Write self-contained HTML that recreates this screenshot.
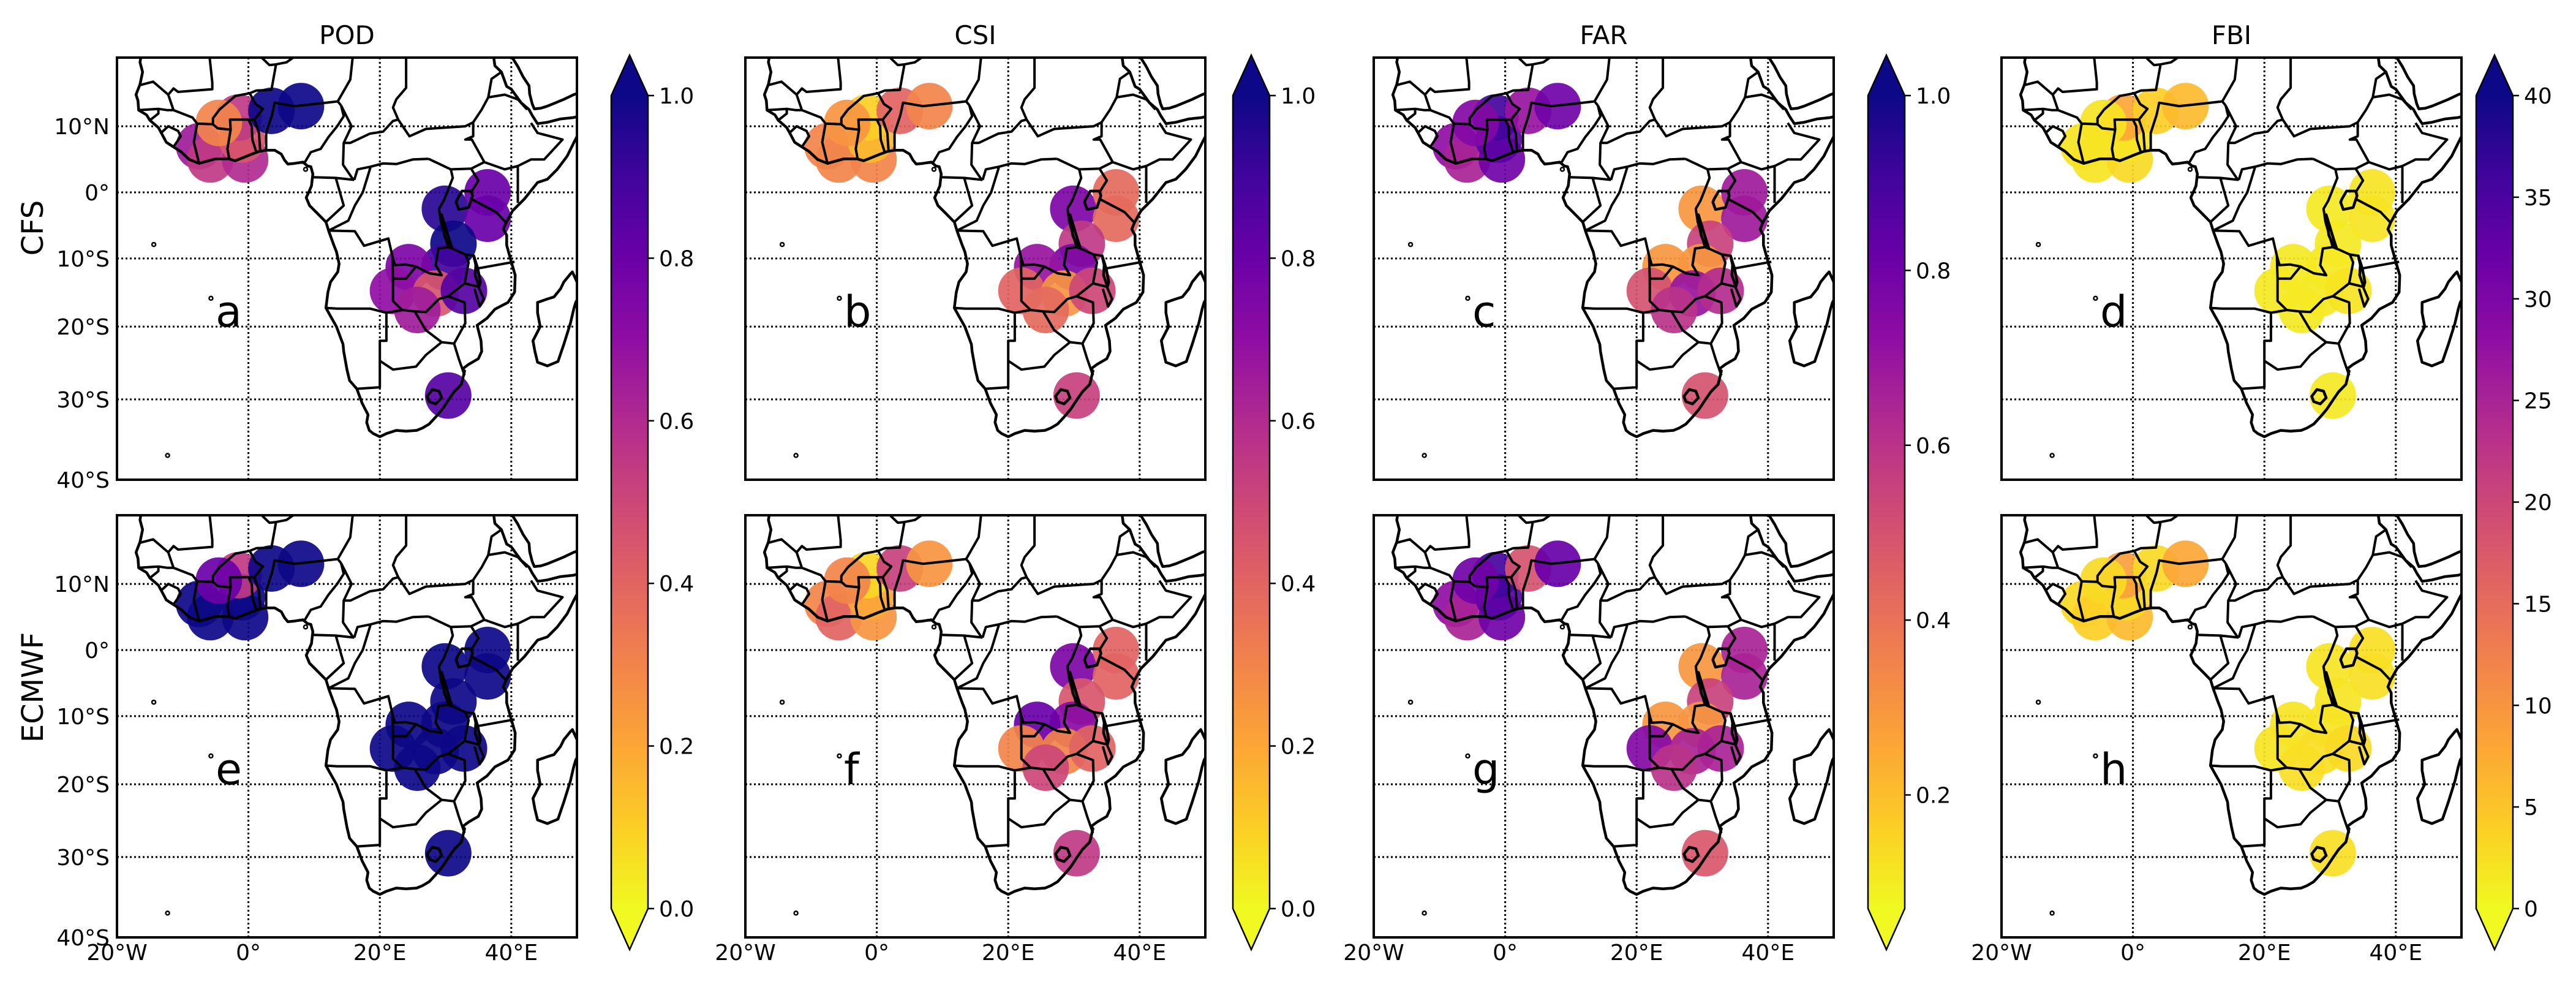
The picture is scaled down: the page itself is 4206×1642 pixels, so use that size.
<!DOCTYPE html>
<html><head><meta charset="utf-8"><style>
html,body{margin:0;padding:0;background:#fff;}
svg{display:block;font-family:"DejaVu Sans","Liberation Sans",sans-serif;}
</style></head><body>
<svg id="fig" width="4206" height="1642" viewBox="0 0 4206 1642" xmlns="http://www.w3.org/2000/svg"></svg>
<script>
// ---- data ----
const stationLon = [-7.5,-5.8,-0.5,-1.0,-1.5,-4.5,3.5,8.0,29.9,36.4,36.4,31.2,29.8,24.4,22.0,28.5,32.8,25.7,30.4];
const stationLat = [7.0,5.0,5.0,8.0,11.3,10.5,12.3,13.0,-2.5,0.0,-4.0,-7.8,-11.3,-11.3,-14.8,-15.2,-14.8,-17.6,-29.5];
const podCfs   = [0.65,0.55,0.6,0.45,0.55,0.3,1.0,1.0,0.95,0.8,0.8,1.0,0.9,0.75,0.7,0.45,0.85,0.65,0.85];
const podEcmwf = [1.0,1.0,1.0,1.0,0.55,0.8,1.0,1.0,1.0,1.0,1.0,1.0,1.0,1.0,1.0,1.0,1.0,1.0,1.0];
const csiCfs   = [0.3,0.3,0.3,0.15,0.1,0.25,0.4,0.3,0.75,0.38,0.38,0.55,0.75,0.68,0.4,0.25,0.5,0.38,0.52];
const csiEcmwf = [0.3,0.4,0.25,0.2,0.08,0.3,0.52,0.25,0.75,0.4,0.4,0.45,0.72,0.8,0.3,0.3,0.4,0.5,0.55];
const farCfs   = [0.72,0.65,0.8,0.85,0.9,0.75,0.7,0.8,0.3,0.68,0.68,0.55,0.3,0.3,0.5,0.7,0.62,0.6,0.5];
const farEcmwf = [0.72,0.65,0.8,0.85,0.9,0.8,0.5,0.82,0.3,0.65,0.65,0.55,0.3,0.3,0.75,0.65,0.65,0.6,0.48];
const fbiCfs   = [2,2,3,2,8,2,4,6,1.5,2,2,1.5,1.5,1.5,1.5,1.5,2,1.5,1.5];
const fbiEcmwf = [3,4,6,3,9,3,3,8,2,2.5,2.5,2,2,2,2,2.5,3,2.5,2.5];
const metricNames = ["POD","CSI","FAR","FBI"];
const cbTicksPod = [0.0,0.2,0.4,0.6,0.8,1.0];
const cbTicksCsi = [0.0,0.2,0.4,0.6,0.8,1.0];
const cbTicksFar = [0.2,0.4,0.6,0.8,1.0];
const cbTicksFbi = [0,5,10,15,20,25,30,35,40];
const latTicks = [10,0,-10,-20,-30,-40];
const lonTicks = [-20,0,20,40];

// ---- map geometry (lon,lat) ----
const africa = [[-17,22],[-16.3,20.5],[-16.5,19.4],[-16.1,18],[-16.5,16.2],[-17.1,14.7],[-16.8,13.8],[-16.7,12.4],[-15.5,11.7],[-15,10.9],[-13.7,9.8],[-13.2,8.9],[-12.5,7.6],[-11.4,6.9],[-10.3,6.2],[-9,5],[-7.5,4.4],[-5,5.1],[-3,5.1],[-2,4.8],[-1,5.2],[0.5,5.8],[1.6,6.2],[2.7,6.4],[4,6.4],[5,5.8],[5.5,4.9],[6,4.3],[7,4.4],[8.3,4.6],[9,4],[9.5,3.9],[9.8,2.8],[9.6,1],[9.3,0.3],[8.8,-0.8],[9.3,-2],[10.5,-3.2],[11.8,-4.5],[12.2,-5.8],[12.3,-6.1],[13,-8],[13.4,-9],[13.8,-10.8],[13.6,-12],[12.5,-13.5],[12.1,-15],[11.8,-17.3],[12.5,-18.5],[13.4,-20],[14.4,-22.5],[14.5,-23.5],[15,-26],[15.4,-27.5],[16.5,-28.6],[17.3,-30.5],[18.2,-32],[18,-33],[18.4,-34],[19,-34.4],[20,-34.8],[21,-34.4],[22.5,-34],[24,-34.1],[25.6,-34],[26.5,-33.7],[27.5,-33.2],[28.5,-32.3],[29.5,-31.3],[30.5,-30],[31.3,-29],[32.4,-28],[32.9,-26.2],[32.6,-25.9],[33.5,-25.3],[35,-24.5],[35.5,-23.5],[35.4,-22],[34.8,-19.8],[36.3,-18.8],[37.5,-17.5],[39.5,-16.5],[40.5,-15],[40.6,-12.5],[40,-10.5],[39.3,-8],[39.3,-6.5],[38.8,-5.6],[39.2,-4.6],[40.2,-2.8],[41,-2],[42,-1],[44,1.5],[45.5,2],[47,3.5],[48.5,5.5],[49.5,7.5],[50.8,10],[51.2,11.8],[49.5,11.3],[47.5,11.1],[45.5,10.6],[44,10.4],[43.2,11.6],[42.7,12.5],[41.5,13.5],[40,15.5],[39.3,15.9],[38.5,18],[37.5,18.9],[37.2,21],[37,22]];
const arabia = [[38.8,22],[39.2,21],[40.2,20],[41,18.8],[41.8,17.3],[42.7,16],[42.8,14.8],[43.2,13.3],[43.5,12.6],[44.5,12.7],[45.5,13],[46.5,13.4],[48,14],[49.5,14.7],[51,15.2]];
const madagascar = [[49.3,-12],[50,-13.5],[50.4,-15.5],[49.8,-16.5],[49.5,-17.5],[49,-19.5],[48,-22.5],[47.1,-24.9],[45.5,-25.5],[44,-25],[43.6,-23.5],[43.3,-22],[44.4,-20],[44,-18],[44,-16.5],[45.5,-16],[46.5,-15.7],[47.5,-14.5],[48,-13.5],[49,-12.3],[49.3,-12]];
const lakes = [
 [[31.8,-1],[32.5,0.2],[33.9,0.2],[34.1,-0.5],[33.5,-2.3],[32,-2.6],[31.6,-1.5],[31.8,-1]],
 [[29.3,-3.4],[29.6,-5],[29.8,-6.5],[30.6,-8.3],[31,-8.5],[30.5,-7],[29.9,-5],[29.4,-3.4]],
 [[34.3,-9.6],[34.6,-11],[34.5,-12.5],[35.1,-14.2],[35.3,-13.5],[34.9,-11.5],[34.3,-9.6]],
 [[27.2,-29.6],[28,-28.7],[29,-28.9],[29.4,-29.8],[28.5,-30.6],[27.5,-30.3],[27.2,-29.6]]
];
const borders = [
 [[-16.5,16.1],[-14.5,16.6],[-12.2,14.7],[-11.4,15.6],[-10.7,15.1],[-5.5,15.5],[-5.5,16.5],[-6,21]],
 [[-16.7,12.4],[-13.7,12.6],[-12.3,12.4],[-11.4,12.4],[-12.2,14.7]],
 [[-15,10.9],[-13.7,11.9],[-13.7,12.6]],
 [[-13.3,9],[-12.2,10],[-10.7,9.3],[-10.3,8.5],[-11.4,6.9]],
 [[-11.4,12.4],[-8.5,11.3],[-7.8,10.4],[-8.3,7.6],[-7.5,4.4]],
 [[-7.8,10.4],[-5.4,10.3],[-4.7,9.7],[-2.7,9.5],[-3.2,6.6],[-2.9,5]],
 [[-2.7,9.5],[-2.8,11],[0,11],[0.9,11]],
 [[0,11],[0.5,10],[0.6,8],[1.2,6.1]],
 [[0.9,11],[1.6,9],[1.8,6.2]],
 [[3.6,11.7],[2.7,9],[2.7,6.4]],
 [[0.9,11],[2.2,12.6],[1.1,13.3],[0.2,14.9],[-2,14.5],[-4.4,12.5],[-5.4,11.2],[-5.4,10.3]],
 [[0.2,14.9],[1.2,15.3],[3.5,15.4],[4.2,19.1],[3.2,19],[1.2,20.8],[-1,22]],
 [[4.2,19.1],[5.8,19.4],[9,21.5]],
 [[3.6,11.7],[4,13.5],[7,13],[10,13.3],[13.6,13.7],[14.1,13.1]],
 [[13.6,13.7],[15.5,16.9],[15.9,20.4],[15.5,22]],
 [[14.1,13.1],[14.5,11.5],[13.5,10],[12.2,8.4],[11,6.6],[9.5,6.1],[8.6,4.6]],
 [[14.1,13.1],[15.7,10],[14.5,7.5],[14.4,4.2],[15.9,2],[16.1,1.9]],
 [[9.8,2.3],[13.3,2.2],[16.1,1.9]],
 [[13.3,2.2],[14.5,-2],[11.8,-4.5]],
 [[14.5,7.5],[15.5,7.5],[18.5,8.9],[20.5,9.2],[22,10.8],[22.8,11]],
 [[22.8,11],[22,12.8],[22.5,14],[24,15.7],[24,19.5],[24,22]],
 [[16.1,1.9],[16.6,3.5],[18.6,3.9],[20.5,4.4],[22.5,4.3],[25,5],[27.4,5.1]],
 [[18.6,3.9],[17.4,0],[16.2,-2],[15.2,-4.3],[12.2,-5.8]],
 [[22.8,11],[24.5,8.5],[27,9.6],[30,9.8],[33,10],[34.2,10.6]],
 [[27.4,5.1],[30.8,3.5],[33.9,3.6],[35.9,4.6],[34,8],[33,8],[34.2,8.5],[34.2,10.6],[35.5,12.5],[36.5,14.3]],
 [[36.5,14.3],[37,17],[38.5,18]],
 [[36.5,14.3],[39,14.7],[41,14],[42.4,12.5]],
 [[35.9,4.6],[39,3.5],[41,4],[43,5],[45,5],[47.8,8],[44,9],[43,10.5]],
 [[41,4],[41,-1.6]],
 [[33.9,-1],[37.7,-3],[39.2,-4.6]],
 [[33.9,3.6],[35,1.8],[34,0.2]],
 [[30.8,3.5],[31.1,2.2],[29.7,-1.3],[29,-2.5],[29.3,-4.5],[30.4,-8.3],[28.9,-8.5],[28.5,-11],[29.4,-12.5],[27.5,-12.2],[25.5,-11.2],[23.9,-10.9],[22.3,-11],[21.9,-9.6],[21.3,-7],[17.6,-8.1],[16.2,-5.9],[12.2,-5.8]],
 [[30.4,-8.3],[31.2,-8.6],[33,-9.4],[33.5,-10.6],[32.9,-13.7],[30.4,-15.6]],
 [[33,-9.4],[34.3,-9.6]],
 [[32.9,-13.7],[35,-14.2],[35.8,-16],[35.2,-17.1],[34.4,-14.5]],
 [[34.8,-11.5],[40.5,-10.5]],
 [[21.9,-9.6],[22,-13],[22,-16.3],[23.4,-17.6]],
 [[11.8,-17.3],[13.5,-17.4],[18.5,-17.4],[21,-18],[23.4,-17.6],[25.3,-17.8]],
 [[21,-18],[21,-22],[20,-22],[20,-24.8],[20,-28.4],[16.5,-28.6]],
 [[20,-24.8],[22,-26],[25.5,-25.6],[27,-24],[29.4,-22.2]],
 [[25.3,-17.8],[27,-17.9],[29,-16],[30.4,-15.6],[32.9,-16.5],[33,-19.5],[31.3,-22.4],[29.4,-22.2],[27,-20.5],[25.3,-17.8]],
 [[31.3,-22.4],[32,-24.5],[32.9,-26.8]],
 [[22,-13],[24,-13],[25.5,-11.2]]
];
const islands = [[-14.4,-7.9],[-5.7,-15.9],[-12.3,-37.1],[8.7,3.5]];

// ---- layout ----
const NS = "http://www.w3.org/2000/svg";
const svg = document.getElementById('fig');
const colX = [191,1217,2243,3268];
const cbX = [998,2013,3050,4043];
const rowTop = [94,841];
const PW = 751, PH = 689;
const EQ_OFF = 220;
const PX_PER_DEG = 10.73, MERC_SCALE = 615;

function mk(tag, attrs, parent){ const e=document.createElementNS(NS,tag); for(const k in attrs) e.setAttribute(k,attrs[k]); (parent||svg).appendChild(e); return e; }
function merc(lat){ const r=lat*Math.PI/180; return Math.log(Math.tan(Math.PI/4+r/2)); }
function xScale(c, lon){ return colX[c] + (lon+20)*PX_PER_DEG; }
function yScale(r, lat){ return rowTop[r] + EQ_OFF - MERC_SCALE*merc(lat); }

const plasma = ["#0d0887","#41049d","#6a00a8","#8f0da4","#b12a90","#cc4778","#e16462","#f2844b","#fca636","#fcce25","#f0f921"];
function hex(h){ return [1,3,5].map(i=>parseInt(h.substr(i,2),16)); }
function cmap(t){
  t=Math.max(0,Math.min(1,t)); const p=(1-t)*10; const i=Math.min(9,Math.floor(p)); const f=p-i;
  const a=hex(plasma[i]), b=hex(plasma[i+1]);
  return 'rgb('+a.map((v,k)=>Math.round(v+(b[k]-v)*f)).join(',')+')';
}

const defs = mk('defs',{});
const grad = mk('linearGradient',{id:'cbgrad',x1:'0',y1:'1',x2:'0',y2:'0'},defs);
for(let k=0;k<=20;k++){ mk('stop',{offset:(k/20).toFixed(3),'stop-color':cmap(k/20)},grad); }

const panelData = [[podCfs,podEcmwf],[csiCfs,csiEcmwf],[farCfs,farEcmwf],[fbiCfs,fbiEcmwf]];
const ranges = [[0,1],[0,1],[0.07,1],[0,40]];
const cbTicks = [cbTicksPod,cbTicksCsi,cbTicksFar,cbTicksFbi];
const letters = [['a','e'],['b','f'],['c','g'],['d','h']];

function pathOf(c,r,pts,close){ return pts.map((p,i)=>(i?'L':'M')+xScale(c,p[0]).toFixed(1)+','+yScale(r,p[1]).toFixed(1)).join('')+(close?'Z':''); }

for(let c=0;c<4;c++){
  for(let r=0;r<2;r++){
    const x0=colX[c], y0=rowTop[r];
    const cp = mk('clipPath',{id:'clip'+c+r},defs); mk('rect',{x:x0,y:y0,width:PW,height:PH},cp);
    const g = mk('g',{'clip-path':'url(#clip'+c+r+')'});
    
    
    [10,0,-10,-20,-30].forEach(lat=>{ const y=yScale(r,lat); const l=mk('line',{x1:x0,x2:x0+PW,y1:y,y2:y,stroke:'#000','stroke-width':3,'stroke-dasharray':'3,4'},g);   });
    [0,20,40].forEach(lon=>{ const x=xScale(c,lon); const l=mk('line',{x1:x,x2:x,y1:y0,y2:y0+PH,stroke:'#000','stroke-width':3,'stroke-dasharray':'3,4'},g);   });
    const vals = panelData[c][r]; const [vmin,vmax]=ranges[c];
    for(let i=0;i<stationLon.length;i++){
      const ci = mk('circle',{cx:xScale(c,stationLon[i]).toFixed(1),cy:yScale(r,stationLat[i]).toFixed(1),r:38,fill:cmap((vals[i]-vmin)/(vmax-vmin)),'fill-opacity':0.92},g);
      
      
    }
    const coast = mk('path',{d:pathOf(c,r,africa,true)+pathOf(c,r,arabia,false)+pathOf(c,r,madagascar,true)+lakes.map(p=>pathOf(c,r,p,true)).join(''),fill:'none',stroke:'#000','stroke-width':4.5,'stroke-linejoin':'round'},g);
    
    
    const bd = mk('path',{d:borders.map(p=>pathOf(c,r,p,false)).join(''),fill:'none',stroke:'#000','stroke-width':4,'stroke-linejoin':'round'},g);
    
    
    islands.forEach(p=>{ mk('circle',{cx:xScale(c,p[0]),cy:yScale(r,p[1]),r:3,fill:'none',stroke:'#000','stroke-width':2.5},g); });
    const fr = mk('rect',{x:x0,y:y0,width:PW,height:PH,fill:'none',stroke:'#000','stroke-width':4});
    
    
    const lt = mk('text',{x:xScale(c,-5),y:yScale(r,-20),'font-size':70,fill:'#000'}); lt.textContent=letters[c][r];
    
    
    if(c===0){
      latTicks.forEach(lat=>{ const t=mk('text',{x:x0-12,y:yScale(r,lat)+13,'font-size':36,'text-anchor':'end'}); t.textContent = lat===0?'0°':(Math.abs(lat)+'°'+(lat>0?'N':'S'));
          });
    }
    if(r===1){
      lonTicks.forEach(lon=>{ const t=mk('text',{x:xScale(c,lon),y:1567,'font-size':36,'text-anchor':'middle'}); t.textContent = lon===0?'0°':(Math.abs(lon)+'°'+(lon>0?'E':'W'));
          });
    }
  }
  const tt = mk('text',{x:colX[c]+PW/2,y:72,'font-size':42,'text-anchor':'middle'}); tt.textContent=metricNames[c];
  
  
  const cx=cbX[c], top=156, bot=1483, w=60;
  const cb = mk('g',{});
  
  
  mk('rect',{x:cx,y:top,width:w,height:bot-top,fill:'url(#cbgrad)'},cb);
  mk('polygon',{points:`${cx},${top} ${cx+w/2},90 ${cx+w},${top}`,fill:cmap(1)},cb);
  mk('polygon',{points:`${cx},${bot} ${cx+w/2},1550 ${cx+w},${bot}`,fill:cmap(0)},cb);
  mk('path',{d:`M${cx},${top}L${cx+w/2},90L${cx+w},${top}L${cx+w},${bot}L${cx+w/2},1550L${cx},${bot}Z`,fill:'none',stroke:'#000','stroke-width':2.5},cb);
  const [vmin,vmax]=ranges[c];
  cbTicks[c].forEach(v=>{ const y = bot - (v-vmin)/(vmax-vmin)*(bot-top);
    mk('line',{x1:cx+w,x2:cx+w+10,y1:y,y2:y,stroke:'#000','stroke-width':2.5},cb);
    const t=mk('text',{x:cx+w+18,y:y+13,'font-size':36},cb); t.textContent = c===3? String(v) : v.toFixed(1);
      });
}
[['CFS',372],['ECMWF',1122]].forEach(([s,y])=>{ const t=mk('text',{x:0,y:0,'font-size':48,'text-anchor':'middle',transform:`translate(70,${y}) rotate(-90)`}); t.textContent=s;
    });
</script>
</body></html>
